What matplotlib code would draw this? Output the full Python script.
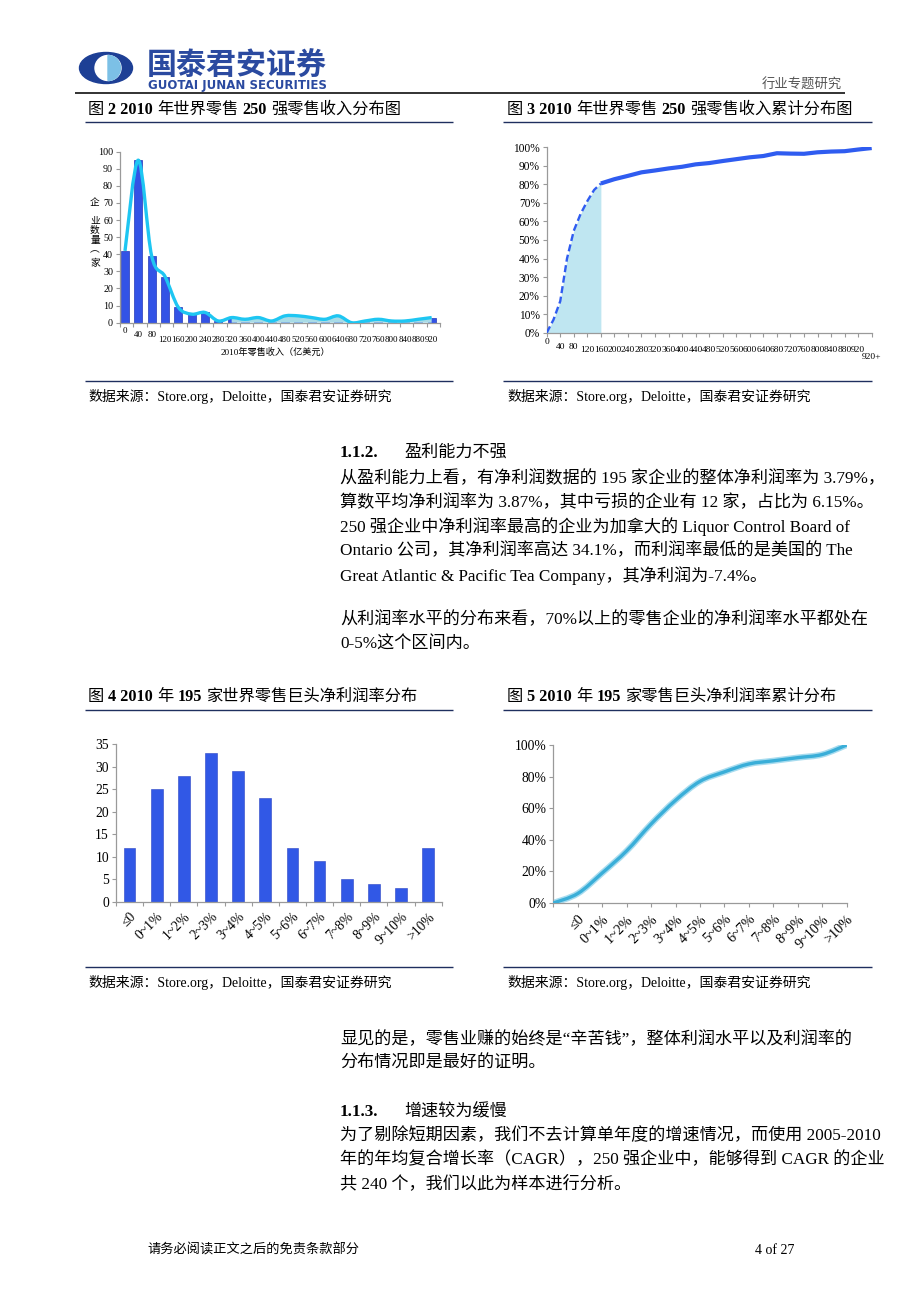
import numpy as np
import matplotlib
matplotlib.use('Agg')
import matplotlib.pyplot as plt
from matplotlib.path import Path
from matplotlib.patches import PathPatch, Ellipse, Wedge

plt.rcParams['font.family'] = ['Liberation Serif', 'Noto Sans CJK SC']
plt.rcParams['axes.unicode_minus'] = False

# ---------------- data ----------------
rev_labels = ['0', '40', '80', '120', '160', '200', '240', '280', '320', '360', '400', '440',
              '480', '520', '560', '600', '640', '680', '720', '760', '800', '840', '880', '920']
rev_counts = [42, 95, 39, 27, 9, 5, 6, 1, 3, 2, 3, 1, 4, 4, 3, 2, 4, 0, 1, 2, 1, 1, 2, 3]

cum_rev_x = [0, 20, 40, 60, 80, 100, 120, 140, 160, 200, 240, 280, 320, 360, 400, 440,
             480, 520, 560, 600, 640, 680, 720, 760, 800, 840, 880, 920, 960]
cum_rev_pct = [0, 7, 17, 40, 55, 64, 71, 77, 80.5, 82.8, 84.6, 86.5, 87.5, 88.6, 89.5, 90.8,
               91.5, 92.6, 93.6, 94.6, 95.3, 96.8, 96.6, 96.5, 97.3, 97.7, 97.9, 98.8, 99.6]
cum_rev_tick_pos = [0, 40, 80, 120, 160, 200, 240, 280, 320, 360, 400, 440, 480, 520, 560,
                    600, 640, 680, 720, 760, 800, 840, 880, 920, 960]
cum_rev_tick_labels = ['0', '40', '80', '120', '160', '200', '240', '280', '320', '360', '400',
                       '440', '480', '520', '560', '600', '640', '680', '720', '760', '800',
                       '840', '880', '920', '920+']

margin_cats = ['≤0', '0~1%', '1~2%', '2~3%', '3~4%', '4~5%', '5~6%', '6~7%', '7~8%',
               '8~9%', '9~10%', '>10%']
margin_counts = [12, 25, 28, 33, 29, 23, 12, 9, 5, 4, 3, 12]
margin_cum_pct = [0, 6, 19, 33, 50, 65, 77, 83, 88, 90, 92, 94, 100]

W, H = 920, 1302
fig = plt.figure(figsize=(W / 100, H / 100), dpi=100)
bg = fig.add_axes([0, 0, 1, 1], zorder=0)
bg.set_xlim(0, W)
bg.set_ylim(H, 0)
bg.axis('off')


def ax_at(x0, y0, x1, y1):
    a = fig.add_axes([x0 / W, 1 - y1 / H, (x1 - x0) / W, (y1 - y0) / H], zorder=2)
    a.patch.set_alpha(0)
    for s in ['top', 'right']:
        a.spines[s].set_visible(False)
    for s in ['left', 'bottom']:
        a.spines[s].set_color('#9a9a9a')
        a.spines[s].set_linewidth(0.9)
    a.tick_params(which='both', direction='out', color='#9a9a9a', length=3, width=0.8)
    return a


def smooth_verts(xs, ys, i0, i1):
    pts = np.column_stack([xs, ys]).astype(float)
    n = len(pts)
    verts = [tuple(pts[i0])]
    codes = [Path.MOVETO]
    for i in range(i0, i1):
        p0 = pts[i - 1] if i > 0 else pts[i]
        p1 = pts[i]
        p2 = pts[i + 1]
        p3 = pts[i + 2] if i + 2 < n else pts[i + 1]
        c1 = p1 + (p2 - p0) / 6.0
        c2 = p2 - (p3 - p1) / 6.0
        verts += [tuple(c1), tuple(c2), tuple(p2)]
        codes += [Path.CURVE4] * 3
    return verts, codes


LINE_C = '#1f2f5f'


def hline(y, x0, x1, lw=1.0, c=LINE_C):
    bg.plot([x0, x1], [y, y], color=c, lw=lw, solid_capstyle='butt')


def rich(x, y, segs, size):
    prev = None
    for txt, wt, gap in segs:
        if prev is None:
            prev = bg.text(x, y, txt, fontsize=size, fontweight=wt, va='baseline', ha='left')
        else:
            prev = bg.annotate(txt, xy=(1, y), xycoords=(prev, bg.transData),
                               xytext=(gap, 0), textcoords='offset points',
                               fontsize=size, fontweight=wt, va='baseline', ha='left')


# ---------------- header ----------------
bg.add_patch(Ellipse((106, 68), 53, 31, color='#1d3f95', zorder=1))
bg.add_patch(Ellipse((108, 68), 26, 25, color='white', zorder=2))
bg.add_patch(Wedge((108, 68), 12.5, -90, 90, color='#7cc0e6', zorder=3))
bg.text(147, 66, '国泰君安证券', fontsize=21.6, fontweight='bold', color='#2b4aa0',
        family='Noto Sans CJK SC', va='center', ha='left')
bg.text(148, 86, 'GUOTAI JUNAN SECURITIES', fontsize=8.5, fontweight='bold', color='#2b4aa0',
        family='DejaVu Sans', va='center', ha='left')
bg.text(842, 85, '行业专题研究', fontsize=9.6, color='#555555', va='center', ha='right')
hline(93, 75, 845, lw=1.3, c='#222222')

# ---------------- chart titles / frames ----------------
TS = 11.7
SP = 2.9
rich(88, 114, [('图', 'normal', 0), ('2 2010', 'bold', SP), ('年世界零售', 'normal', SP),
               ('250', 'bold', SP), ('强零售收入分布图', 'normal', SP)], TS)
rich(507, 114, [('图', 'normal', 0), ('3 2010', 'bold', SP), ('年世界零售', 'normal', SP),
                ('250', 'bold', SP), ('强零售收入累计分布图', 'normal', SP)], TS)
rich(88, 701, [('图', 'normal', 0), ('4 2010', 'bold', SP), ('年', 'normal', SP),
               ('195', 'bold', SP), ('家世界零售巨头净利润率分布', 'normal', SP)], TS)
rich(507, 701, [('图', 'normal', 0), ('5 2010', 'bold', SP), ('年', 'normal', SP),
                ('195', 'bold', SP), ('家零售巨头净利润率累计分布', 'normal', SP)], TS)

for y in [122, 381, 710, 967]:
    hline(y, 85, 453)
    hline(y, 503, 872)

src = '数据来源：Store.org，Deloitte，国泰君安证券研究'
for (x, y) in [(88, 396), (507, 396), (88, 983), (507, 983)]:
    bg.text(x, y, src, fontsize=10, va='center', ha='left')

# ---------------- body text ----------------
BS = 12.3
bg.text(340, 453, '1.1.2.', fontsize=BS, fontweight='bold', va='center', ha='left')
bg.text(404, 453, '盈利能力不强', fontsize=BS, va='center', ha='left')
body1 = [
    (479, '从盈利能力上看，有净利润数据的 195 家企业的整体净利润率为 3.79%，'),
    (503, '算数平均净利润率为 3.87%，其中亏损的企业有 12 家，占比为 6.15%。'),
    (527, '250 强企业中净利润率最高的企业为加拿大的 Liquor Control Board of'),
    (551, 'Ontario 公司，其净利润率高达 34.1%，而利润率最低的是美国的 The'),
    (576, 'Great Atlantic & Pacific Tea Company，其净利润为-7.4%。'),
    (620, '从利润率水平的分布来看，70%以上的零售企业的净利润率水平都处在'),
    (645, '0-5%这个区间内。'),
    (1040, '显见的是，零售业赚的始终是“辛苦钱”，整体利润水平以及利润率的'),
    (1064, '分布情况即是最好的证明。'),
    (1136, '为了剔除短期因素，我们不去计算单年度的增速情况，而使用 2005-2010'),
    (1160, '年的年均复合增长率（CAGR），250 强企业中，能够得到 CAGR 的企业'),
    (1184, '共 240 个，我们以此为样本进行分析。'),
]
for y, t in body1:
    bg.text(340, y, t, fontsize=BS, va='center', ha='left')
bg.text(340, 1112, '1.1.3.', fontsize=BS, fontweight='bold', va='center', ha='left')
bg.text(404, 1112, '增速较为缓慢', fontsize=BS, va='center', ha='left')

# footer
bg.text(147, 1250, '请务必阅读正文之后的免责条款部分', fontsize=9.5, va='center', ha='left')
bg.text(755, 1250, '4 of 27', fontsize=10, va='center', ha='left')

# ---------------- chart 1: revenue distribution ----------------
ax1 = ax_at(120, 151.7, 440, 322.7)
xi = np.arange(len(rev_counts))
ax1.bar(xi, rev_counts, width=0.6, color='#3353e6', edgecolor='#2438b8', lw=0.5, zorder=2)
# area for tail
a0, a1 = 8, len(rev_counts) - 1
v, c = smooth_verts(xi, rev_counts, a0, a1)
v = v + [(xi[a1], 0), (xi[a0], 0), (xi[a0], rev_counts[a0])]
c = c + [Path.LINETO, Path.LINETO, Path.CLOSEPOLY]
ax1.add_patch(PathPatch(Path(v, c), facecolor='#a9dbe6', edgecolor='none', zorder=3))
v, c = smooth_verts(xi, rev_counts, 0, len(rev_counts) - 1)
ax1.add_patch(PathPatch(Path(v, c), facecolor='none', edgecolor='#1ec6f2', lw=2.4, zorder=4))
ax1.set_xlim(-0.375, 23.625)
ax1.set_ylim(0, 100)
ax1.set_yticks(np.arange(0, 101, 10))
ax1.tick_params(axis='y', labelsize=7.2, pad=2)
ax1.set_xticks(np.arange(-0.375, 23.7, 1.0))
ax1.set_xticklabels([])
for i, lab in enumerate(rev_labels):
    dy = 8 if i == 0 else (12.5 if i < 3 else 17.5)
    ax1.text(xi[i], -dy / 171.0, lab, transform=ax1.get_xaxis_transform(),
             fontsize=6.5, ha='center', va='center')
ax1.text(0.485, -29.3 / 171.0, '2010年零售收入（亿美元）', transform=ax1.transAxes,
         fontsize=6.6, ha='center', va='center')
for ch, yy in [('企', 203), ('业', 221), ('数', 230), ('量', 241), ('︵', 250), ('家', 263)]:
    bg.text(95, yy, ch, fontsize=7, va='center', ha='center')

# ---------------- chart 3: cumulative revenue ----------------
ax3 = ax_at(546.7, 147.3, 871.7, 332.7)
ax3.fill_between(cum_rev_x[:9], 0, cum_rev_pct[:9], color='#bfe6f1', lw=0, zorder=1)
ax3.plot(cum_rev_x[:9], cum_rev_pct[:9], color='#2f5cf0', lw=1.7, ls=(0, (3, 1.5)), zorder=3)
ax3.plot(cum_rev_x[8:], cum_rev_pct[8:], color='#2f5cf0', lw=3.0, zorder=3,
         solid_capstyle='butt')
ax3.set_xlim(0, 960)
ax3.set_ylim(0, 100)
ax3.set_yticks(np.arange(0, 101, 10))
ax3.set_yticklabels([f'{v}%' for v in range(0, 101, 10)])
ax3.tick_params(axis='y', labelsize=8.3, pad=2)
ax3.set_xticks(cum_rev_tick_pos)
ax3.set_xticklabels([])
for i, (p, lab) in enumerate(zip(cum_rev_tick_pos, cum_rev_tick_labels)):
    if i == 0:
        dy = 9
    elif i < 3:
        dy = 14
    elif i == len(cum_rev_tick_pos) - 1:
        dy = 24
    else:
        dy = 17.3
    ax3.text(p, -dy / 185.4, lab, transform=ax3.get_xaxis_transform(),
             fontsize=6.8, ha='center', va='center', clip_on=False)

# ---------------- chart 4: margin distribution ----------------
ax4 = ax_at(116, 744, 441.7, 902)
mx = np.arange(len(margin_counts))
ax4.bar(mx, margin_counts, width=0.43, color='#3158e6', edgecolor='#2a44c4', lw=0.4, zorder=2)
ax4.set_xlim(-0.5, len(margin_counts) - 0.5)
ax4.set_ylim(0, 35)
ax4.set_yticks(np.arange(0, 36, 5))
ax4.tick_params(axis='y', labelsize=9.8, pad=2)
ax4.set_xticks(mx)
ax4.set_xticklabels(margin_cats, rotation=45, ha='right', va='top', rotation_mode='anchor',
                    fontsize=9.8)
ax4.tick_params(axis='x', which='major', length=0, pad=6)
ax4.set_xticks(np.arange(-0.5, len(margin_counts), 1.0), minor=True)

# ---------------- chart 5: cumulative margin ----------------
ax5 = ax_at(553.3, 745, 846.7, 903)
cx = np.arange(len(margin_cum_pct))
v, c = smooth_verts(cx, margin_cum_pct, 0, len(cx) - 1)
ax5.add_patch(PathPatch(Path(v, c), facecolor='none', edgecolor='#a8dcef', lw=4.5, zorder=2))
ax5.add_patch(PathPatch(Path(v, c), facecolor='none', edgecolor='#3aaed8', lw=2.4, zorder=3))
ax5.set_xlim(0, len(cx) - 1)
ax5.set_ylim(0, 100)
ax5.set_yticks(np.arange(0, 101, 20))
ax5.set_yticklabels([f'{v}%' for v in range(0, 101, 20)])
ax5.tick_params(axis='y', labelsize=9.8, pad=2)
ax5.set_xticks(cx[1:])
ax5.set_xticklabels(margin_cats, rotation=45, ha='right', va='top', rotation_mode='anchor',
                    fontsize=10.2)
ax5.tick_params(axis='x', which='major', pad=4)
ax5.set_xticks([0], minor=True)

fig.savefig('out.png', dpi=100)
